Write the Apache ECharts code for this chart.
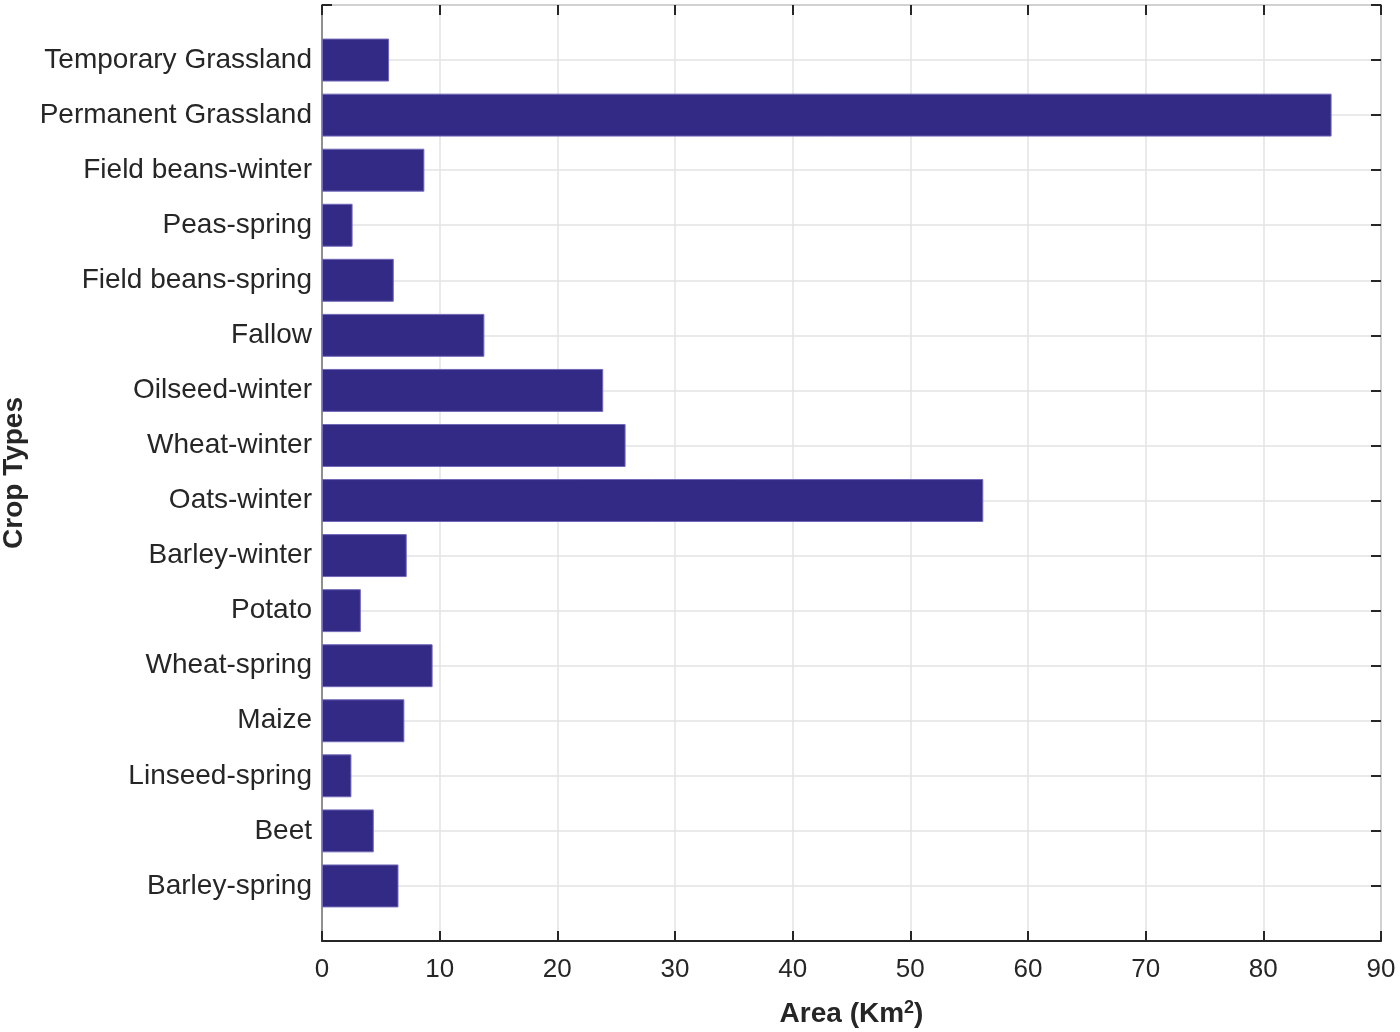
<!DOCTYPE html>
<html>
<head>
<meta charset="utf-8">
<style>html,body{margin:0;padding:0;background:#fff;}#chart{width:1400px;height:1032px;}</style>
<script src="https://cdn.jsdelivr.net/npm/echarts@6/dist/echarts.min.js"></script>
</head>
<body>
<div id="chart"></div>
<script>
const categories = ['Temporary Grassland','Permanent Grassland','Field beans-winter','Peas-spring','Field beans-spring','Fallow','Oilseed-winter','Wheat-winter','Oats-winter','Barley-winter','Potato','Wheat-spring','Maize','Linseed-spring','Beet','Barley-spring'];
const areaValues = [5.7, 85.8, 8.7, 2.6, 6.1, 13.8, 23.9, 25.8, 56.2, 7.2, 3.3, 9.4, 7.0, 2.5, 4.4, 6.5];
const xTicks = [0,10,20,30,40,50,60,70,80,90];

// bottom-to-top order for the axis, with empty padding slots at both ends
const axisCats = [''].concat(categories.slice().reverse(), ['']);
const seriesData = [null].concat(areaValues.slice().reverse(), [null]);
const font = 'Liberation Sans, Arial, sans-serif';
const tickStyle = {color: '#262626', width: 2};
const chart = echarts.init(document.getElementById('chart'));
chart.setOption({
  animation: false,
  grid: {left: 322, right: 19, top: 5, bottom: 91, outerBoundsMode: 'none', containLabel: false,
         show: true, borderColor: '#7a7a7a', borderWidth: 1.5, backgroundColor: 'transparent'},
  xAxis: [{
    type: 'value', min: xTicks[0], max: xTicks[xTicks.length-1], interval: 10, position: 'bottom',
    name: '{a|Area (Km}{s|2}{a|)}', nameLocation: 'middle', nameGap: 58,
    nameTextStyle: {rich: {
      a: {fontFamily: font, fontSize: 28, fontWeight: 'bold', color: '#262626', lineHeight: 30},
      s: {fontFamily: font, fontSize: 18, fontWeight: 'bold', color: '#262626', verticalAlign: 'top', lineHeight: 30, padding: [0,0,10,0]}
    }},
    axisLine: {show: true, onZero: false, lineStyle: {color: '#262626', width: 2}},
    axisTick: {show: true, inside: true, length: 10, lineStyle: tickStyle},
    axisLabel: {fontFamily: font, fontSize: 26, color: '#262626', margin: 16},
    splitLine: {show: true, lineStyle: {color: '#e3e3e3', width: 1.5}}
  },{
    type: 'value', min: xTicks[0], max: xTicks[xTicks.length-1], interval: 10, position: 'top',
    axisLine: {show: false, onZero: false},
    axisTick: {show: true, inside: true, length: 10, lineStyle: tickStyle},
    axisLabel: {show: false}, splitLine: {show: false}
  }],
  yAxis: [{
    type: 'category', data: axisCats, boundaryGap: false, position: 'left',
    name: 'Crop Types', nameLocation: 'middle', nameGap: 294, nameRotate: 90,
    nameTextStyle: {fontFamily: font, fontSize: 28, fontWeight: 'bold', color: '#262626'},
    axisLine: {show: true, onZero: false, lineStyle: {color: '#7a7a7a', width: 1.5}},
    axisTick: {show: true, inside: true, length: 10, lineStyle: tickStyle},
    axisLabel: {fontFamily: font, fontSize: 28, color: '#262626', margin: 10, interval: 0},
    splitLine: {show: true, lineStyle: {color: '#e3e3e3', width: 1.5}}
  },{
    type: 'category', data: axisCats, boundaryGap: false, position: 'right',
    axisLine: {show: false, onZero: false},
    axisTick: {show: true, inside: true, length: 10, interval: 0, lineStyle: tickStyle},
    axisLabel: {show: false, interval: 0}, splitLine: {show: false}
  }],
  series: [{
    type: 'bar', data: seriesData, barWidth: '78%',
    itemStyle: {color: '#332a86', borderColor: '#7168b8', borderWidth: 1}
  }]
});
</script>
</body>
</html>
